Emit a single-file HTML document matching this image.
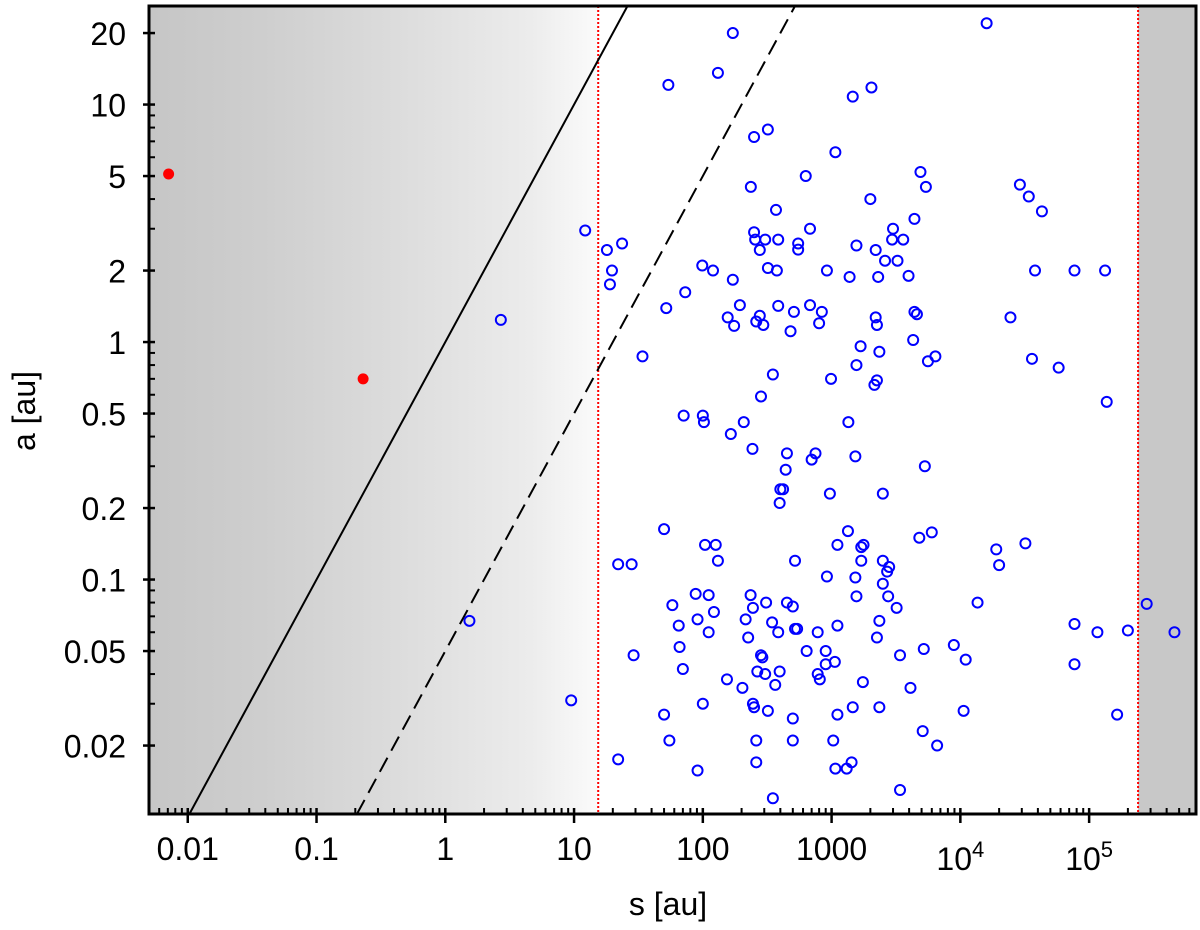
<!DOCTYPE html>
<html><head><meta charset="utf-8"><style>
html,body{margin:0;padding:0;background:#fff;overflow:hidden;}
svg{display:block;font-family:"Liberation Sans",sans-serif;}
</style></head><body>
<svg id="chart" width="1200" height="930" viewBox="0 0 1200 930" xmlns="http://www.w3.org/2000/svg">
<defs>
<linearGradient id="lg" x1="0" x2="1" y1="0" y2="0">
<stop offset="0" stop-color="#c6c6c6"/>
<stop offset="0.25" stop-color="#cecece"/>
<stop offset="0.55" stop-color="#dcdcdc"/>
<stop offset="0.85" stop-color="#ececec"/>
<stop offset="1" stop-color="#fbfbfb"/>
</linearGradient>
<clipPath id="clip"><rect x="149" y="6" width="1047" height="808"/></clipPath>
</defs>
<g id="bg"></g>
<g id="lines" clip-path="url(#clip)"></g>
<g id="pts" clip-path="url(#clip)"></g>
<g id="axes"></g>
<text x="668" y="915" font-size="32" text-anchor="middle">s [au]</text>
<text transform="translate(35,411) rotate(-90)" font-size="32" text-anchor="middle">a [au]</text>
</svg>
<script>
const sVals=[1.6e4,171,54,131,1460,2040,320,250,1070,630,4900,5400,236,2.9e4,3.4e4,4.3e4,2000,370,4400,12.2,250,255,305,385,680,3000,3600,2950,23.6,18,277,550,550,1560,2200,2600,3250,19.7,19,99,120,320,376,920,1380,2300,3960,3.8e4,7.7e4,1.33e5,171,73,194,385,680,52,156,277,510,840,4400,4600,2.45e4,260,175,295,480,2250,2200,800,2.7,34,4300,1680,6400,5600,2350,3.6e4,5.8e4,350,990,1560,2150,2250,283,71,100,102,208,165,1350,1.37e5,243,450,750,700,1530,440,5300,400,420,395,970,2500,50,1340,104,126,1110,1770,4800,1700,6000,1.9e4,3.2e4,2.0e4,22,28,131,520,2500,2700,1700,1.54,9.5,22,29,50,55,58,65,66,70,88,91,100,91,111,122,111,154,203,215,225,235,245,245,250,260,260,265,283,290,305,310,320,345,350,365,385,395,450,500,520,500,500,540,640,900,780,780,810,920,900,1060,1110,1030,1070,1110,1310,1430,1460,1530,1560,1750,2350,2250,2350,2500,2750,3200,3400,3400,2800,4100,5100,5200,6600,8900,1.06e4,1.1e4,1.36e4,7.7e4,7.7e4,1.16e5,1.65e5,2.0e5,2.8e5,4.6e5];
const aVals=[22,20,12.1,13.6,10.8,11.8,7.85,7.3,6.3,5.0,5.2,4.5,4.5,4.6,4.1,3.55,4.0,3.6,3.3,2.95,2.9,2.7,2.7,2.7,3.0,3.0,2.7,2.7,2.6,2.44,2.44,2.6,2.45,2.55,2.44,2.2,2.2,2.0,1.75,2.1,2.0,2.05,2.0,2.0,1.88,1.88,1.9,2.0,2.0,2.0,1.83,1.62,1.43,1.42,1.43,1.39,1.27,1.29,1.34,1.34,1.34,1.31,1.27,1.22,1.17,1.18,1.11,1.18,1.27,1.2,1.24,0.87,1.02,0.96,0.87,0.83,0.91,0.85,0.78,0.73,0.7,0.8,0.66,0.69,0.59,0.49,0.49,0.46,0.46,0.41,0.46,0.56,0.355,0.34,0.34,0.32,0.33,0.29,0.30,0.24,0.24,0.21,0.23,0.23,0.163,0.16,0.14,0.14,0.14,0.14,0.15,0.137,0.158,0.134,0.142,0.115,0.116,0.116,0.12,0.12,0.12,0.108,0.12,0.067,0.031,0.0175,0.048,0.027,0.021,0.078,0.064,0.052,0.042,0.087,0.068,0.03,0.0157,0.086,0.073,0.06,0.038,0.035,0.068,0.057,0.086,0.076,0.03,0.029,0.021,0.017,0.041,0.048,0.047,0.04,0.08,0.028,0.066,0.012,0.036,0.06,0.041,0.08,0.077,0.062,0.026,0.021,0.062,0.05,0.044,0.06,0.04,0.038,0.103,0.05,0.045,0.064,0.021,0.016,0.027,0.016,0.017,0.029,0.102,0.085,0.037,0.067,0.057,0.029,0.096,0.085,0.076,0.048,0.013,0.113,0.035,0.023,0.051,0.02,0.053,0.028,0.046,0.08,0.065,0.044,0.06,0.027,0.061,0.079,0.06];
const redS=[0.0071,0.23];
const redA=[5.1,0.7];
const lineRatios=[1,0.05];
const xTickLabels=["0.01","0.1","1","10","100","1000","10^4","10^5"];
const xTickVals=[0.01,0.1,1,10,100,1000,1e4,1e5];
const yTickVals=[0.02,0.05,0.1,0.2,0.5,1,2,5,10,20];
const yTickLabels=["0.02","0.05","0.1","0.2","0.5","1","2","5","10","20"];
const bounds=[15.4,2.4e5];
const NS='http://www.w3.org/2000/svg';
const L=149,R=1196,T=6,B=814;
const xmin=Math.log10(0.005),xmax=5.83,ymin=Math.log10(0.0103),ymax=Math.log10(26);
const X=v=>L+(Math.log10(v)-xmin)/(xmax-xmin)*(R-L);
const Y=v=>B-(Math.log10(v)-ymin)/(ymax-ymin)*(B-T);
function el(t,a,p){const e=document.createElementNS(NS,t);for(const k in a)e.setAttribute(k,a[k]);p.appendChild(e);return e;}
const bg=document.getElementById('bg');
let r=el('rect',{x:L,y:T,width:X(bounds[0])-L,height:B-T,fill:'url(#lg)'},bg);


r=el('rect',{x:X(bounds[1]),y:T,width:R-X(bounds[1]),height:B-T,fill:'#c8c8c8'},bg);


const ln=document.getElementById('lines');
bounds.forEach((b,i)=>{const e=el('line',{x1:X(b),x2:X(b),y1:T,y2:B,stroke:'#ff0000','stroke-width':2,'stroke-dasharray':'2 2'},ln);

});
lineRatios.forEach((k,i)=>{const a1=Math.pow(10,ymin),a2=Math.pow(10,ymax);const s1=a1/k,s2=a2/k;
const e=el('line',{x1:X(s1),y1:Y(a1),x2:X(s2),y2:Y(a2),stroke:'#000','stroke-width':2,'stroke-dasharray':i?'16 8':'none'},ln);

});
const pg=document.getElementById('pts');
sVals.forEach((s,i)=>{const c=el('circle',{cx:X(s),cy:Y(aVals[i]),r:5,fill:'none',stroke:'#0000ff','stroke-width':2},pg);

});
redS.forEach((s,i)=>{const c=el('circle',{cx:X(s),cy:Y(redA[i]),r:5.5,fill:'#ff0000'},pg);

});
const ax=document.getElementById('axes');
const fr=el('rect',{x:L,y:T,width:R-L,height:B-T,fill:'none',stroke:'#000','stroke-width':3},ax);


for(let d=-3;d<=6;d++)for(let m=1;m<10;m++){const v=m*Math.pow(10,d);const x=X(v);if(x<L+1||x>R-1)continue;
if(m==1){el('line',{x1:x,x2:x,y1:B-6,y2:B+9,stroke:'#000','stroke-width':2.5},ax);}
else el('line',{x1:x,x2:x,y1:B-6,y2:B,stroke:'#000','stroke-width':2},ax);}
for(let d=-2;d<=2;d++)for(let m=1;m<10;m++){const v=m*Math.pow(10,d);const y=Y(v);if(y<T+1||y>B-1)continue;
const major=yTickVals.some(t=>Math.abs(t-v)<1e-9);
if(major)el('line',{x1:L-6,x2:L+6,y1:y,y2:y,stroke:'#000','stroke-width':2.5},ax);
else el('line',{x1:L,x2:L+6,y1:y,y2:y,stroke:'#000','stroke-width':2},ax);}
xTickVals.forEach((v,i)=>{const lab=xTickLabels[i];const t=el('text',{x:X(v),y:860,'font-size':32,'text-anchor':'middle'},ax);
if(lab.includes('^')){const p=lab.split('^');t.textContent=p[0];const ts=el('tspan',{dy:-13,'font-size':22},t);ts.textContent=p[1];t.setAttribute('y',870);}
else t.textContent=lab;

});
yTickVals.forEach((v,i)=>{const t=el('text',{x:126,y:Y(v)+12,'font-size':32,'text-anchor':'end'},ax);t.textContent=yTickLabels[i];

});
</script>
</body></html>
